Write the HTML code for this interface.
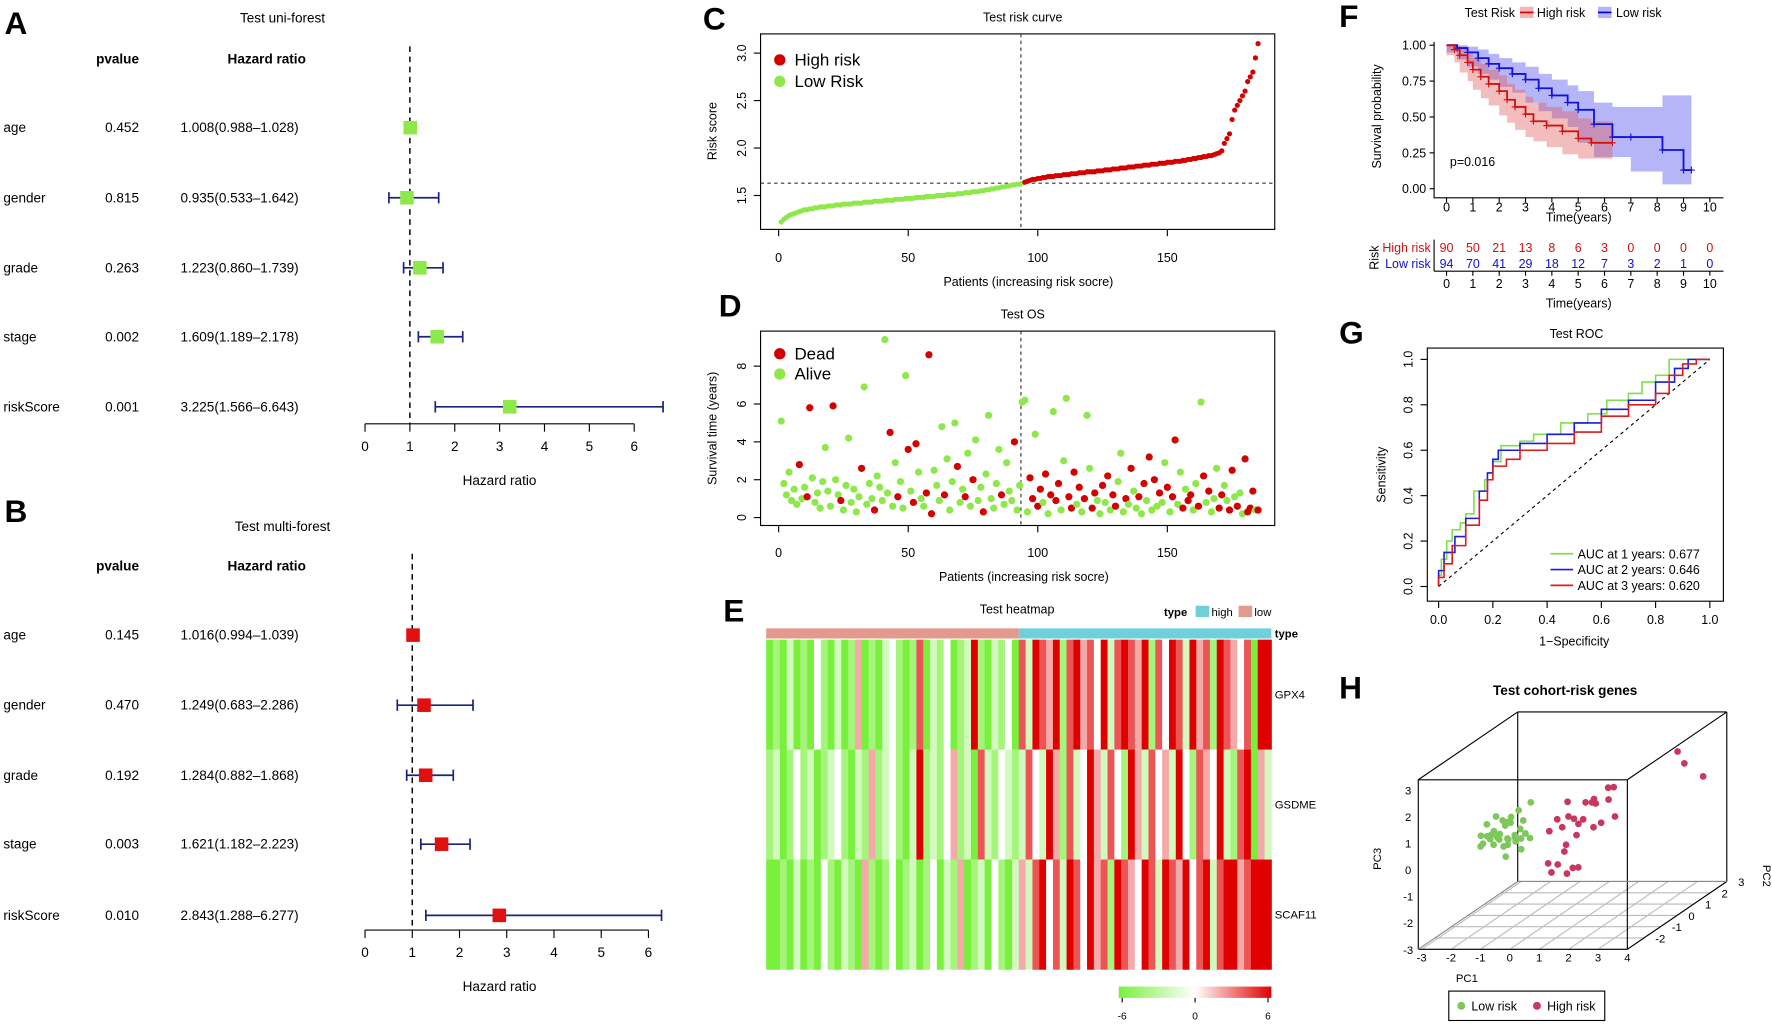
<!DOCTYPE html>
<html><head><meta charset="utf-8"><style>
html,body{margin:0;padding:0;background:#fff;}
svg{display:block;font-family:"Liberation Sans",Arial,sans-serif;}
</style></head><body>
<svg id="fig" width="1772" height="1025" viewBox="0 0 1568 907" preserveAspectRatio="none">
<rect x="0" y="0" width="1568" height="907" fill="#fff"/>
<g font-weight="bold" font-size="28">
<text x="4" y="30">A</text>
<text x="4" y="462">B</text>
<text x="622" y="26">C</text>
<text x="636" y="280">D</text>
<text x="640" y="550">E</text>
<text x="1185" y="24">F</text>
<text x="1185" y="304">G</text>
<text x="1185" y="618">H</text>
</g>
<g id="forestA"></g>
<g id="forestB"></g>
<g id="panelC"></g>
<g id="panelD"></g>
<g id="panelE"></g>
<g id="panelF"></g>
<g id="panelG"></g>
<g id="panelH"></g>
</svg>
<script>
// ---------- data ----------
const forestVars=['age','gender','grade','stage','riskScore'];
const uniP=['0.452','0.815','0.263','0.002','0.001'];
const uniHR=[1.008,0.935,1.223,1.609,3.225];
const uniLo=[0.988,0.533,0.860,1.189,1.566];
const uniHi=[1.028,1.642,1.739,2.178,6.643];
const multiP=['0.145','0.470','0.192','0.003','0.010'];
const multiHR=[1.016,1.249,1.284,1.621,2.843];
const multiLo=[0.994,0.683,0.882,1.182,1.288];
const multiHi=[1.039,2.286,1.868,2.223,6.277];
const hrTicks=[0,1,2,3,4,5,6];

const lowRisk=[1.22,1.25,1.27,1.29,1.30,1.31,1.32,1.33,1.34,1.35,
1.35,1.36,1.36,1.37,1.37,1.38,1.38,1.38,1.39,1.39,
1.39,1.40,1.40,1.40,1.41,1.41,1.41,1.41,1.42,1.42,
1.42,1.42,1.43,1.43,1.43,1.43,1.44,1.44,1.44,1.44,
1.45,1.45,1.45,1.45,1.46,1.46,1.46,1.46,1.47,1.47,
1.47,1.47,1.48,1.48,1.48,1.48,1.49,1.49,1.49,1.49,
1.50,1.50,1.50,1.50,1.51,1.51,1.51,1.51,1.52,1.52,
1.52,1.53,1.53,1.53,1.54,1.54,1.54,1.55,1.55,1.56,
1.56,1.57,1.57,1.58,1.58,1.59,1.59,1.60,1.60,1.61,
1.61,1.62,1.62,1.63];
const highRisk=[1.64,1.65,1.66,1.67,1.67,1.68,1.68,1.69,1.69,1.70,
1.70,1.70,1.71,1.71,1.71,1.72,1.72,1.72,1.73,1.73,
1.73,1.74,1.74,1.74,1.75,1.75,1.75,1.75,1.76,1.76,
1.76,1.77,1.77,1.77,1.78,1.78,1.78,1.79,1.79,1.79,
1.80,1.80,1.80,1.81,1.81,1.81,1.82,1.82,1.82,1.83,
1.83,1.83,1.84,1.84,1.84,1.85,1.85,1.85,1.86,1.86,
1.86,1.87,1.87,1.88,1.88,1.89,1.89,1.90,1.90,1.91,
1.91,1.92,1.92,1.93,1.94,1.95,1.97,2.05,2.10,2.15,
2.30,2.40,2.45,2.50,2.55,2.60,2.70,2.75,2.80,2.95,3.10];
const riskYTicks=[1.5,2.0,2.5,3.0];
const patientTicks=[0,50,100,150];

const lowTime=[5.1,1.8,1.2,2.4,0.9,1.5,0.7,2.8,1.0,1.6,
1.1,5.8,2.1,0.8,1.3,0.5,1.9,3.7,1.4,0.6,
5.9,2.0,1.2,0.9,0.4,1.7,4.2,0.8,1.5,0.3,
1.1,2.6,6.9,0.7,1.8,1.0,0.4,2.2,1.6,0.9,
9.4,1.3,4.5,0.6,2.9,1.1,1.9,0.5,7.5,3.6,
1.4,0.8,3.9,2.4,1.0,0.6,1.3,8.6,0.2,2.5,
1.7,0.9,4.8,1.2,3.1,0.4,1.9,5.0,2.7,0.8,
1.5,1.1,3.4,0.6,2.0,4.1,0.9,1.6,0.3,2.3,
5.4,1.0,0.5,1.8,3.6,1.2,0.7,2.9,1.4,0.9,
4.0,0.4,1.7,6.1];
const lowStatus=[0,0,0,0,0,0,0,1,0,0,1,1,0,0,0,0,0,0,0,0,1,0,0,1,0,0,0,0,0,0,0,1,0,0,0,0,1,0,0,0,0,0,1,0,0,1,0,0,0,1,0,1,1,0,0,0,1,1,1,0,0,0,0,1,0,0,0,0,1,0,0,1,0,0,1,0,0,0,1,0,0,0,0,0,0,1,0,0,0,0,1,0,0,0];
const highTime=[6.2,0.3,2.1,1.0,4.4,0.6,1.5,0.8,2.3,0.2,
1.2,5.6,0.9,1.8,0.4,3.0,6.3,1.1,0.5,2.4,
0.7,1.6,0.3,1.0,5.4,2.6,0.5,1.3,0.9,0.2,
1.7,0.8,2.2,0.4,1.2,0.6,1.9,3.4,0.3,1.0,
0.7,2.6,1.4,0.5,1.1,0.2,1.8,0.9,3.2,0.4,
2.0,0.6,1.3,0.8,2.9,1.6,0.3,1.1,4.1,0.7,
2.4,0.5,1.5,0.9,1.2,0.4,1.8,0.6,6.1,2.2,
0.8,1.4,0.3,1.0,2.6,0.5,1.2,1.7,0.9,0.4,
2.5,1.1,0.6,1.3,0.2,3.1,0.3,0.5,1.4,0.4,0.4];
const highStatus=[0,0,1,1,0,1,1,0,1,0,1,0,1,1,0,0,0,1,1,1,0,1,0,1,0,0,1,1,0,0,1,0,1,0,1,1,0,0,0,1,0,1,0,0,1,0,1,0,1,0,1,0,1,0,0,1,0,1,1,0,0,1,0,1,1,0,0,1,0,1,0,1,0,0,0,1,1,0,0,1,1,0,1,0,0,1,1,1,1,0,1];
const timeTicks=[0,2,4,6,8];

const genes=['GPX4','GSDME','SCAF11'];
const gpx4=[-3,-2,-3,-1,-3,-2,-3,0,-2,-3,-1,-3,-2,1,-3,-2,-3,-1,0,-2,-3,-2,2,-3,-1,-2,0,-3,-2,-1,3,-2,-3,-1,-2,0,-3,
2,-1,3,2,1,3,-2,2,3,1,2,0,3,-1,2,3,2,1,3,-2,2,0,3,2,-1,3,1,2,-2,3,2,1,0,2,-3,3,3];
const gsdme=[-2,-1,-3,-2,0,-2,-1,-3,-2,-1,0,-2,-3,-1,-2,1,-2,-1,0,-2,-3,-1,3,-2,-1,-2,0,1,-2,-1,-3,2,-1,-2,0,-1,-2,
-1,2,0,-1,3,1,-2,2,-1,0,3,1,-1,2,0,-2,3,1,-1,2,0,1,-1,3,0,-2,2,1,0,3,-1,-2,2,3,-3,1,-1];
const scaf11=[-3,-3,-2,-3,-1,-3,-2,-3,0,-2,-3,-1,-2,-3,1,-2,-3,-2,0,-3,-2,-1,-3,-2,0,-3,-1,-2,1,-3,-2,-1,-3,0,-2,-3,-1,
1,-1,2,3,0,2,-1,3,2,0,3,1,2,-2,3,2,1,0,3,2,-1,3,2,1,3,0,2,3,-1,2,3,3,1,2,3,3,3];
const heatLowCount=37;
const colorTicks=[-6,0,6];

const kmHighT=[0,0.3,0.5,0.8,1.0,1.3,1.6,2.0,2.3,2.6,3.0,3.3,3.8,4.4,5.0,5.5,6.3];
const kmHighS=[1,0.97,0.93,0.88,0.83,0.78,0.73,0.68,0.62,0.57,0.52,0.47,0.44,0.40,0.35,0.32,0.32];
const kmHighUp=[1,1,0.99,0.95,0.91,0.87,0.83,0.79,0.73,0.69,0.64,0.6,0.57,0.54,0.49,0.47,0.47];
const kmHighLo=[1,0.93,0.88,0.81,0.75,0.69,0.63,0.58,0.51,0.46,0.41,0.36,0.33,0.29,0.24,0.21,0.21];
const kmLowT=[0,0.4,0.8,1.2,1.6,2.0,2.5,3.0,3.5,4.0,4.6,5.0,5.6,6.3,7.0,8.2,9.0,9.3];
const kmLowS=[1,0.98,0.95,0.91,0.87,0.84,0.80,0.76,0.70,0.65,0.60,0.55,0.45,0.36,0.36,0.27,0.13,0.13];
const kmLowUp=[1,1,0.99,0.97,0.94,0.91,0.88,0.85,0.80,0.76,0.72,0.68,0.60,0.57,0.57,0.65,0.65,0.65];
const kmLowLo=[1,0.95,0.90,0.85,0.80,0.76,0.71,0.67,0.60,0.54,0.49,0.43,0.32,0.22,0.22,0.12,0.03,0.03];
const kmXTicks=[0,1,2,3,4,5,6,7,8,9,10];
const kmYTicks=['0.00','0.25','0.50','0.75','1.00'];
const atRiskHigh=[90,50,21,13,8,6,3,0,0,0,0];
const atRiskLow=[94,70,41,29,18,12,7,3,2,1,0];

const roc1X=[0,0.01,0.03,0.05,0.08,0.1,0.13,0.17,0.2,0.23,0.3,0.35,0.45,0.55,0.62,0.7,0.75,0.8,0.85,0.9,1];
const roc1Y=[0,0.05,0.12,0.2,0.25,0.28,0.32,0.42,0.47,0.55,0.62,0.64,0.67,0.72,0.76,0.82,0.85,0.9,0.93,1,1];
const roc2X=[0,0.02,0.06,0.1,0.15,0.18,0.2,0.22,0.3,0.4,0.5,0.6,0.7,0.8,0.87,0.92,0.95,1];
const roc2Y=[0,0.07,0.15,0.22,0.3,0.42,0.5,0.56,0.6,0.63,0.67,0.72,0.78,0.82,0.9,0.96,1,1];
const roc3X=[0,0.02,0.05,0.1,0.15,0.18,0.2,0.25,0.3,0.4,0.5,0.6,0.7,0.8,0.85,0.9,0.95,1];
const roc3Y=[0,0.04,0.1,0.18,0.27,0.38,0.47,0.53,0.56,0.6,0.63,0.68,0.75,0.8,0.85,0.93,0.98,1];
const rocTicks=[0,0.2,0.4,0.6,0.8,1.0];
const rocLabels=['AUC at 1 years: 0.677','AUC at 2 years: 0.646','AUC at 3 years: 0.620'];

const g1=[-2.0,-1.8,-1.6,-1.5,-1.4,-1.3,-1.7,-1.2,-1.0,-1.9,-1.5,-1.1,-0.8,-1.6,-1.4,-1.2,-0.9,-2.1,-1.3,-1.0,-0.6,-1.5,-1.8,-1.1,-0.7,-1.4,-0.5,-1.2,-1.6,-0.9,-1.7,-1.3,-1.5,-1.1,-1.9];
const g2=[-1.2,-1.0,-0.8,-1.1,-0.9,-1.3,-0.7,-1.0,-0.6,-1.4,-0.5,-1.2,-0.9,-0.6,-1.5,-0.8,-1.1,-0.9,-0.4,-0.7,-1.0,-0.3,-1.2,-1.3,-0.5,-0.8,-0.9,-0.2,-1.0,-0.6,-1.1,-0.8,-1.3,-0.7,-1.0];
const g3=[0.3,0.1,0.0,0.2,-0.2,0.4,0.1,-0.1,0.3,0.0,0.5,0.2,-0.3,0.6,0.1,0.8,0.2,-0.1,0.0,1.0,0.3,0.4,0.7,-0.4,1.2,0.5,0.1,-0.2,0.9,0.6,0.3,0.0,0.5,-0.1,0.2];
const r1=[0.1,0.3,0.5,0.6,0.8,0.4,1.0,1.2,0.7,0.2,1.1,1.5,0.5,0.8,2.6,0.2,0.7,1.3,0.4,1.0,3.0,0.1,0.9,1.6,0.6,0.3,1.2,1.1,3.3,0.5];
const r2=[-0.8,0.0,-0.6,0.5,-0.4,-1.2,0.3,0.8,-0.8,-0.2,1.0,0.6,-1.0,0.0,2.5,-0.5,0.8,0.2,-1.4,0.4,2.2,0.3,-0.8,0.5,-0.2,0.6,-1.0,0.0,2.8,-0.5];
const r3=[0.3,0.5,-0.5,0.8,0.0,-1.0,1.0,1.2,-1.2,0.2,0.7,1.3,-0.8,0.4,1.8,0.6,-0.2,0.2,-0.6,0.8,1.5,0.9,-1.0,0.3,0.5,0.0,-0.9,1.0,0.8,-0.3];
const pc1Ticks=[-3,-2,-1,0,1,2,3,4];
const pc2Ticks=[-2,-1,0,1,2,3];
const pc3Ticks=[-3,-2,-1,0,1,2,3];

// ---------- helpers ----------
const NS=document.getElementById('fig').namespaceURI;
function el(tag,a,p){const e=document.createElementNS(NS,tag);for(const k in a)e.setAttribute(k,a[k]);p.appendChild(e);return e;}
function tx(x,y,s,a,p){const e=el('text',Object.assign({x:x,y:y,'font-size':11},a||{}),p);e.textContent=s;return e;}
const GREEN='#8fe84a', RED='#d40000';

// ---------- forest plots ----------
function forest(g,title,titleY,hdrY,rows,P,HR,LO,HI,x0,ppu,axisY,color){
  const t=tx(250,titleY,title,{'text-anchor':'middle','font-size':12},g);
  
  
  const h1=tx(104,hdrY,'pvalue',{'text-anchor':'middle','font-weight':'bold','font-size':12},g);
  
  
  const h2=tx(236,hdrY,'Hazard ratio',{'text-anchor':'middle','font-weight':'bold','font-size':12},g);
  
  
  const X=v=>x0+v*ppu;
  const dl=el('line',{x1:X(1),x2:X(1),y1:hdrY-15,y2:axisY,stroke:'#000','stroke-dasharray':'5,4','stroke-width':1.3},g);
  
  
  forestVars.forEach((v,i)=>{
    const y=rows[i];
    const a=tx(3,y+4,v,{'font-size':12},g);
    
    
    const b=tx(108,y+4,P[i],{'text-anchor':'middle','font-size':12},g);
    
    
    const c=tx(212,y+4,HR[i].toFixed(3)+'('+LO[i].toFixed(3)+'\u2013'+HI[i].toFixed(3)+')',{'text-anchor':'middle','font-size':12},g);
    
    
    const ci=el('path',{d:`M${X(LO[i])},${y-5}V${y+5}M${X(LO[i])},${y}H${X(HI[i])}M${X(HI[i])},${y-5}V${y+5}`,stroke:'#1a237e','stroke-width':1.5,fill:'none'},g);
    
    
    const sq=el('rect',{x:X(HR[i])-6,y:y-6,width:12,height:12,fill:color},g);
    
    
  });
  el('line',{x1:X(0),x2:X(6),y1:axisY,y2:axisY,stroke:'#000'},g);
  hrTicks.forEach(v=>{el('line',{x1:X(v),x2:X(v),y1:axisY,y2:axisY+7,stroke:'#000'},g);
    const k=tx(X(v),axisY+24,v,{'text-anchor':'middle','font-size':12},g);
    
    });
  const xl=tx(442,axisY+54,'Hazard ratio',{'text-anchor':'middle','font-size':12},g);
  
  
}
forest(document.getElementById('forestA'),'Test uni-forest',20,56,[113,175,237,298,360],uniP,uniHR,uniLo,uniHi,323,39.7,375,GREEN);
forest(document.getElementById('forestB'),'Test multi-forest',470,505,[562,624,686,747,810],multiP,multiHR,multiLo,multiHi,323,41.8,823,'#e01010');

// ---------- C ----------
(function(){
  const g=document.getElementById('panelC');
  const X=v=>689+v*2.293, Y=v=>173-(v-1.5)*84;
  el('rect',{x:673,y:30,width:455,height:173,fill:'none',stroke:'#000'},g);
  tx(905,19,'Test risk curve',{'text-anchor':'middle'},g);
  const yl=tx(634,116,'Risk score',{'text-anchor':'middle',transform:'rotate(-90 634 116)'},g);
  
  
  tx(910,253,'Patients (increasing risk socre)',{'text-anchor':'middle'},g);
  patientTicks.forEach(v=>{el('line',{x1:X(v),x2:X(v),y1:203,y2:209,stroke:'#000'},g);tx(X(v),232,v,{'text-anchor':'middle'},g);});
  riskYTicks.forEach(v=>{el('line',{x1:667,x2:673,y1:Y(v),y2:Y(v),stroke:'#000'},g);tx(660,Y(v),v.toFixed(1),{'text-anchor':'middle',transform:`rotate(-90 660 ${Y(v)})`},g);});
  el('line',{x1:673,x2:1128,y1:Y(1.63),y2:Y(1.63),stroke:'#333','stroke-dasharray':'3,3'},g);
  el('line',{x1:X(lowRisk.length-0.5),x2:X(lowRisk.length-0.5),y1:30,y2:203,stroke:'#333','stroke-dasharray':'3,3'},g);
  lowRisk.forEach((v,i)=>{const c=el('circle',{cx:X(i+1),cy:Y(v),r:2.3,fill:GREEN},g);
    
    });
  highRisk.forEach((v,i)=>{const c=el('circle',{cx:X(lowRisk.length+i+1),cy:Y(v),r:2.3,fill:RED},g);
    
    });
  el('circle',{cx:690,cy:53,r:5,fill:RED},g);tx(703,58,'High risk',{'font-size':15},g);
  el('circle',{cx:690,cy:72,r:5,fill:GREEN},g);tx(703,77,'Low Risk',{'font-size':15},g);
})();

// ---------- D ----------
(function(){
  const g=document.getElementById('panelD');
  const X=v=>689+v*2.293, Y=v=>458-v*16.75;
  el('rect',{x:673,y:293,width:455,height:172,fill:'none',stroke:'#000'},g);
  tx(905,282,'Test OS',{'text-anchor':'middle'},g);
  tx(634,379,'Survival time (years)',{'text-anchor':'middle',transform:'rotate(-90 634 379)'},g);
  tx(906,514,'Patients (increasing risk socre)',{'text-anchor':'middle'},g);
  patientTicks.forEach(v=>{el('line',{x1:X(v),x2:X(v),y1:465,y2:471,stroke:'#000'},g);tx(X(v),493,v,{'text-anchor':'middle'},g);});
  timeTicks.forEach(v=>{el('line',{x1:667,x2:673,y1:Y(v),y2:Y(v),stroke:'#000'},g);tx(660,Y(v),v,{'text-anchor':'middle',transform:`rotate(-90 660 ${Y(v)})`},g);});
  el('line',{x1:X(lowTime.length-0.5),x2:X(lowTime.length-0.5),y1:293,y2:465,stroke:'#333','stroke-dasharray':'3,3'},g);
  const all=lowTime.concat(highTime), st=lowStatus.concat(highStatus);
  all.forEach((v,i)=>{const c=el('circle',{cx:X(i+1),cy:Y(v),r:3.2,fill:st[i]?RED:GREEN},g);
    
    });
  el('circle',{cx:690,cy:313,r:5,fill:RED},g);tx(703,318,'Dead',{'font-size':15},g);
  el('circle',{cx:690,cy:331,r:5,fill:GREEN},g);tx(703,336,'Alive',{'font-size':15},g);
})();

// ---------- E ----------
(function(){
  const g=document.getElementById('panelE');
  const x0=678,x1=1125,total=gpx4.length,cw=(x1-x0)/total;
  tx(900,543,'Test heatmap',{'text-anchor':'middle'},g);
  tx(1030,545,'type',{'font-weight':'bold','font-size':10},g);
  el('rect',{x:1058,y:536,width:12,height:10,fill:'#6fd0dc'},g);tx(1072,545,'high',{'font-size':10},g);
  el('rect',{x:1096,y:536,width:12,height:10,fill:'#e39a8e'},g);tx(1110,545,'low',{'font-size':10},g);
  el('rect',{x:x0,y:556,width:heatLowCount*cw,height:9,fill:'#e39a8e'},g);
  el('rect',{x:x0+heatLowCount*cw,y:556,width:(total-heatLowCount)*cw,height:9,fill:'#6fd0dc'},g);
  tx(1128,564,'type',{'font-weight':'bold','font-size':10},g);
  function col(v){const t=Math.max(-1,Math.min(1,v/3));
    if(t<0){const a=-t;return `rgb(${Math.round(255-a*135)},${Math.round(255-a*15)},${Math.round(255-a*195)})`;}
    return `rgb(${Math.round(255-t*30)},${Math.round(255-t*255)},${Math.round(255-t*255)})`;}
  [gpx4,gsdme,scaf11].forEach((arr,r)=>{
    const y=566+r*97.3;
    arr.forEach((v,i)=>{const c=el('rect',{x:x0+i*cw,y:y,width:cw+0.4,height:97.5,fill:col(v)},g);
      
      });
    tx(1128,y+52,genes[r],{'font-size':10},g);
  });
  const grad=el('linearGradient',{id:'cb'},el('defs',{},g));
  el('stop',{offset:'0','stop-color':col(-3)},grad);el('stop',{offset:'0.5','stop-color':'#fff'},grad);el('stop',{offset:'1','stop-color':col(3)},grad);
  el('rect',{x:990,y:873,width:135,height:10,fill:'url(#cb)'},g);
  colorTicks.forEach(v=>{const x=993+(v+6)/12*129;el('line',{x1:x,x2:x,y1:883,y2:887,stroke:'#000'},g);tx(x,902,v,{'text-anchor':'middle','font-size':9},g);});
})();

// ---------- F ----------
(function(){
  const g=document.getElementById('panelF');
  const X=v=>1280+v*23.3, Y=v=>167-v*127;
  tx(1296,15,'Test Risk',{'font-size':11},g);
  el('rect',{x:1345,y:6,width:12,height:10,fill:'#f2b5b5'},g);el('line',{x1:1345,x2:1357,y1:11,y2:11,stroke:'#d00','stroke-width':1.5},g);
  tx(1360,15,'High risk',{'font-size':11},g);
  el('rect',{x:1414,y:6,width:12,height:10,fill:'#b5b5f5'},g);el('line',{x1:1414,x2:1426,y1:11,y2:11,stroke:'#00d','stroke-width':1.5},g);
  tx(1430,15,'Low risk',{'font-size':11},g);
  function band(T,U,L,fill){let d=`M${X(T[0])},${Y(U[0])}`;
    for(let i=1;i<T.length;i++)d+=`H${X(T[i])}V${Y(U[i])}`;
    for(let i=T.length-1;i>=1;i--)d+=`V${Y(L[i])}H${X(T[i-1])}`;
    d+=`V${Y(L[0])}Z`;const p=el('path',{d:d,fill:fill},g);
    
    }
  function line(T,S,stroke){let d=`M${X(T[0])},${Y(S[0])}`;
    for(let i=1;i<T.length;i++)d+=`H${X(T[i])}V${Y(S[i])}`;
    const p=el('path',{d:d,fill:'none',stroke:stroke,'stroke-width':1.6},g);
    
    
    T.forEach((t,i)=>{if(i>0)el('path',{d:`M${X(t)-3},${Y(S[i])}h6M${X(t)},${Y(S[i])-3}v6`,stroke:stroke,'stroke-width':1},g);});}
  band(kmLowT,kmLowUp,kmLowLo,'rgba(90,90,240,0.45)');
  band(kmHighT,kmHighUp,kmHighLo,'rgba(225,90,90,0.4)');
  line(kmLowT,kmLowS,'#1010e0');line(kmHighT,kmHighS,'#d41010');
  el('path',{d:'M1269,37V175H1525',stroke:'#000',fill:'none'},g);
  kmYTicks.forEach(v=>{const y=Y(+v);el('line',{x1:1265,x2:1269,y1:y,y2:y,stroke:'#000'},g);tx(1262,y+4,v,{'text-anchor':'end','font-size':11},g);});
  kmXTicks.forEach(v=>{el('line',{x1:X(v),x2:X(v),y1:175,y2:179,stroke:'#000'},g);tx(X(v),187,v,{'text-anchor':'middle','font-size':11},g);
    el('line',{x1:X(v),x2:X(v),y1:240,y2:244,stroke:'#000'},g);tx(X(v),255,v,{'text-anchor':'middle','font-size':11},g);
    const a=tx(X(v),223,atRiskHigh[v],{'text-anchor':'middle','font-size':11,fill:'#d01010'},g);
    
    
    const b=tx(X(v),237,atRiskLow[v],{'text-anchor':'middle','font-size':11,fill:'#1010d0'},g);
    
    });
  tx(1222,103,'Survival probability',{'text-anchor':'middle','font-size':11,transform:'rotate(-90 1222 103)'},g);
  tx(1283,147,'p=0.016',{'font-size':11},g);
  tx(1397,196,'Time(years)',{'text-anchor':'middle','font-size':11},g);
  el('line',{x1:1269,x2:1269,y1:212,y2:240,stroke:'#000'},g);el('line',{x1:1269,x2:1525,y1:240,y2:240,stroke:'#000'},g);
  tx(1266,223,'High risk',{'text-anchor':'end','font-size':11,fill:'#d01010'},g);
  tx(1266,237,'Low risk',{'text-anchor':'end','font-size':11,fill:'#1010d0'},g);
  tx(1220,228,'Risk',{'text-anchor':'middle','font-size':11,transform:'rotate(-90 1220 228)'},g);
  tx(1397,272,'Time(years)',{'text-anchor':'middle','font-size':11},g);
})();

// ---------- G ----------
(function(){
  const g=document.getElementById('panelG');
  const X=v=>1273+v*240, Y=v=>519-v*201;
  el('rect',{x:1263,y:308,width:262,height:224,fill:'none',stroke:'#000'},g);
  tx(1395,299,'Test ROC',{'text-anchor':'middle'},g);
  tx(1226,420,'Sensitivity',{'text-anchor':'middle',transform:'rotate(-90 1226 420)'},g);
  tx(1393,571,'1\u2212Specificity',{'text-anchor':'middle'},g);
  rocTicks.forEach(v=>{el('line',{x1:X(v),x2:X(v),y1:532,y2:538,stroke:'#000'},g);tx(X(v),552,v.toFixed(1),{'text-anchor':'middle'},g);
    el('line',{x1:1257,x2:1263,y1:Y(v),y2:Y(v),stroke:'#000'},g);tx(1250,Y(v),v.toFixed(1),{'text-anchor':'middle',transform:`rotate(-90 1250 ${Y(v)})`},g);});
  el('line',{x1:X(0),y1:Y(0),x2:X(1),y2:Y(1),stroke:'#000','stroke-dasharray':'3,3'},g);
  [[roc1X,roc1Y,'#7ee04a'],[roc2X,roc2Y,'#1a1ae0'],[roc3X,roc3Y,'#e01a1a']].forEach(([xs,ys,c],k)=>{
    let d=`M${X(xs[0])},${Y(ys[0])}`;for(let i=1;i<xs.length;i++)d+=`V${Y(ys[i])}H${X(xs[i])}`;
    const p=el('path',{d:d,fill:'none',stroke:c,'stroke-width':1.4},g);
    
    
    const yy=490+k*14;el('line',{x1:1372,x2:1392,y1:yy,y2:yy,stroke:c,'stroke-width':1.5},g);tx(1396,yy+4,rocLabels[k],{},g);
  });
})();

// ---------- H ----------
(function(){
  const g=document.getElementById('panelH');
  const P=(a,b,c)=>[1258+(a+3)*26+(b+3)*14.7,840-(c+3)*25-(b+3)*10];
  tx(1385,615,'Test cohort-risk genes',{'text-anchor':'middle','font-size':12,'font-weight':'bold'},g);
  const ln=(p,q,s,w)=>el('line',{x1:p[0],y1:p[1],x2:q[0],y2:q[1],stroke:s||'#000','stroke-width':w||1},g);
  const A=[1255,840],B=[1440,840],dx=88,dy=-60;
  pc1Ticks.forEach(v=>{const x=1258+(v+3)*26;ln([x,840],[x+dx,840+dy],'#bbb');});
  for(let i=0;i<=6;i++){const t=i/6;ln([1255+dx*t,840+dy*t],[1440+dx*t,840+dy*t],'#bbb');}
  ln([1255,690],[1440,690]);ln([1440,690],[1440,840]);ln([1255,690],[1255,840]);ln(A,B);
  ln([1343,630],[1528,630]);ln([1528,630],[1528,780]);ln([1343,630],[1343,780]);
  ln([1255,690],[1343,630]);ln([1440,690],[1528,630]);ln([1440,840],[1528,780]);ln([1255,840],[1343,780],'#888');ln([1343,780],[1528,780],'#888');
  g2.forEach((_,i)=>{const p=P(g1[i],g2[i],g3[i]);const c=el('circle',{cx:p[0],cy:p[1],r:3,fill:'#7cc85a'},g);
    
    });
  r1.forEach((_,i)=>{const p=P(r1[i],r2[i],r3[i]);const c=el('circle',{cx:p[0],cy:p[1],r:3,fill:'#c8375f'},g);
    
    });
  pc1Ticks.forEach(v=>{const x=1258+(v+3)*26;tx(x,851,v,{'text-anchor':'middle','font-size':10},g);});
  pc3Ticks.forEach(v=>{const y=840-(v+3)*23.5;tx(1246,y+4,v,{'text-anchor':'middle','font-size':10},g);});
  pc2Ticks.forEach(v=>{const t=(v+3)/6;tx(1450+dx*t,840+dy*t+4,v,{'font-size':10},g);});
  tx(1298,869,'PC1',{'text-anchor':'middle','font-size':10},g);
  tx(1222,760,'PC3',{'text-anchor':'middle','font-size':10,transform:'rotate(-90 1222 760)'},g);
  tx(1560,775,'PC2',{'text-anchor':'middle','font-size':10,transform:'rotate(90 1560 775)'},g);
  el('rect',{x:1282,y:877,width:138,height:26,fill:'#fff',stroke:'#000'},g);
  el('circle',{cx:1293,cy:890,r:3.5,fill:'#7cc85a'},g);tx(1302,894,'Low risk',{'font-size':11},g);
  el('circle',{cx:1360,cy:890,r:3.5,fill:'#c8375f'},g);tx(1369,894,'High risk',{'font-size':11},g);
})();
</script>
</body></html>
